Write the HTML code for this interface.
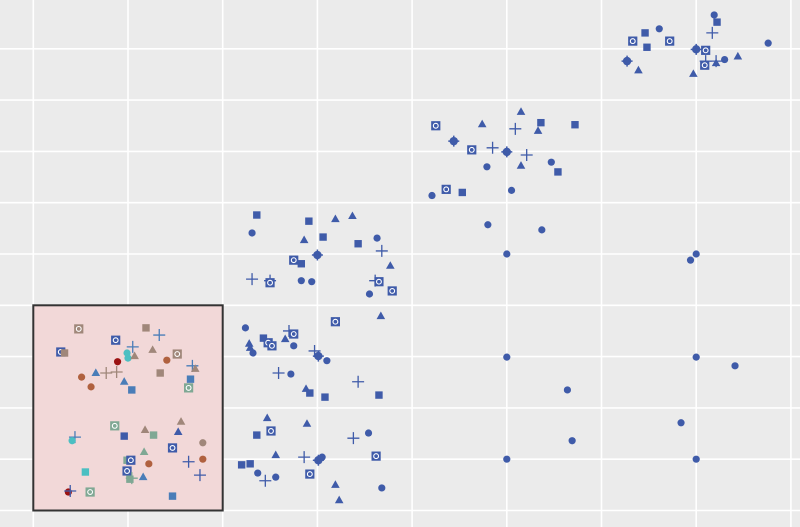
<!DOCTYPE html>
<html><head><meta charset="utf-8"><style>
html,body{margin:0;padding:0;background:#ebebeb;}
svg{display:block;font-family:"Liberation Sans",sans-serif;}
</style></head><body>
<svg id="chart" width="800" height="527" viewBox="0 0 800 527" xmlns="http://www.w3.org/2000/svg">
<rect x="0" y="0" width="800" height="527" fill="#ebebeb"/>
<g id="grid"></g>
<rect id="hl" fill="#f2d8d8" stroke="#333" stroke-width="2"/>
<g id="pts"></g>
</svg>
<script>
const xTicks=[0,10,20,30,40,50,60,70,80];
const yTicks=[0,10,20,30,40,50,60,70,80,90];
const highlightX=[0,20];
const highlightY=[0,40];
const xs=[71.9,72.2,66.1,64.6,63.3,67.2,64.8,71.0,70.0,71.7,77.6,73.0,74.4,71.0,72.1,70.9,72.1,63.9,62.7,69.7,
42.5,47.4,51.5,53.6,57.2,50.9,53.3,44.4,46.3,48.5,50.0,52.1,47.9,51.5,54.7,55.4,42.1,43.6,45.3,50.5,48.0,53.7,50.0,69.4,70.0,
50.0,70.0,74.1,56.4,68.4,56.9,50.0,70.0,
23.6,31.9,33.7,29.1,23.1,28.6,30.6,34.3,36.3,36.8,27.5,28.3,30.0,37.7,23.1,25.0,25.0,28.3,29.4,36.1,36.5,35.5,37.9,
22.4,31.9,36.7,24.3,27.0,27.5,26.6,24.8,25.2,22.8,22.9,23.2,27.5,29.7,30.1,31.0,25.9,27.2,34.3,28.8,29.2,30.8,36.5,24.7,25.1,28.9,23.6,33.8,35.4,25.6,28.6,30.1,30.5,36.2,22.0,22.9,23.7,25.6,24.5,29.2,31.9,36.8,32.3,
4.8,11.9,13.3,8.7,10.5,2.9,3.3,9.9,10.0,10.7,12.6,15.2,8.9,14.1,16.8,17.1,7.7,8.8,6.6,5.1,13.4,16.6,9.6,6.1,10.4,16.4,
8.6,15.6,11.8,12.7,4.4,4.1,9.6,15.3,17.9,14.7,11.7,9.9,10.3,12.2,17.9,16.4,5.5,9.9,17.6,10.2,10.4,11.6,3.7,3.9,6.0,14.7];
const ys=[96.6,95.2,93.9,93.1,91.5,91.5,90.3,89.7,89.9,93.1,91.1,87.9,88.5,87.6,87.6,86.8,87.2,85.8,87.6,85.1,
75.0,75.3,77.7,75.6,75.2,74.4,74.0,72.0,70.3,70.7,69.9,69.3,67.0,67.2,67.9,66.0,61.4,62.6,62.0,62.4,55.7,54.7,50.0,48.8,50.0,
29.9,29.9,28.2,23.5,17.1,13.6,10.0,10.0,
57.6,56.8,57.4,56.4,54.1,52.7,53.3,52.0,53.1,50.6,48.8,48.1,49.8,47.7,45.1,44.8,44.4,44.8,44.6,44.8,44.6,42.2,42.8,
35.6,36.8,37.9,33.6,35.0,34.4,33.4,32.7,32.1,32.5,31.7,30.7,32.1,31.1,30.1,29.2,26.8,26.6,25.1,23.7,22.9,22.1,22.5,18.0,15.5,16.9,14.7,14.1,15.1,10.8,10.4,9.8,10.4,10.6,8.9,9.1,7.3,6.5,5.8,7.1,5.0,4.4,2.0,
35.4,35.6,34.2,33.2,31.9,30.9,30.7,30.7,29.7,30.1,31.3,30.5,29.0,29.3,28.2,27.6,26.8,27.0,26.8,26.0,26.8,25.6,25.1,24.1,23.5,23.9,
16.5,17.3,15.7,14.7,14.3,13.6,14.5,15.3,13.2,12.2,11.4,9.8,9.8,9.1,10.0,9.5,7.5,7.7,6.9,6.1,6.3,6.5,3.6,3.8,3.6,2.8];
const shapes=("c s c s o o s o x p c c t p p o t t x t "+
"o t t s s p t x o p x p c t c s c o s c c c c c c "+
"c c c c c c c c "+
"s t t s c t s s c p o s x t p p o c c p o c o "+
"c o t s p o t o o t t c c p x c p c p t s s s t o t s p c t p x c o s s c c p o t c t "+
"o s p o p o s c c t t o c c p t p p t c s s t c s o "+
"o t t s p c s t c o t s o c c p s o p s p t c p o s").trim().split(/\s+/);
const groups=("A ".repeat(20+25+8+23+43)+
"D D G A G A D B B D D D E C G D D D G C D G G C G F "+
"F D D F G B A A D A F F A C C A B A A F F G E A F G").trim().split(/\s+/);
const colors={A:"#3f5ba9",B:"#4bbfc2",C:"#b0613f",D:"#a0877a",E:"#9b1212",F:"#7fa894",G:"#4a7db8"};
const X=v=>33.3+9.47*v, Y=v=>510.5-5.13*v;
const NS="http://www.w3.org/2000/svg";
function mk(tag,attrs,parent){const e=document.createElementNS(NS,tag);for(const k in attrs)e.setAttribute(k,attrs[k]);parent.appendChild(e);return e;}
const grid=document.getElementById('grid');
xTicks.forEach(t=>{const l=mk('line',{x1:X(t),x2:X(t),y1:0,y2:527,stroke:'#fff','stroke-width':1.6},grid);

});
yTicks.forEach(t=>{const l=mk('line',{x1:0,x2:800,y1:Y(t),y2:Y(t),stroke:'#fff','stroke-width':1.6},grid);

});
const hl=document.getElementById('hl');
hl.setAttribute('x',X(highlightX[0]));hl.setAttribute('y',Y(highlightY[1]));
hl.setAttribute('width',X(highlightX[1])-X(highlightX[0]));hl.setAttribute('height',Y(highlightY[0])-Y(highlightY[1]));
const pts=document.getElementById('pts');
for(let i=0;i<xs.length;i++){
 const cx=X(xs[i]),cy=Y(ys[i]),c=colors[groups[i]]||colors.A,s=shapes[i];
 const g=mk('g',{},pts);
 
 
 if(s==='c')mk('circle',{cx,cy,r:3.6,fill:c},g);
 else if(s==='s')mk('rect',{x:cx-3.7,y:cy-3.7,width:7.4,height:7.4,fill:c},g);
 else if(s==='t')mk('polygon',{points:`${cx},${cy-4.6} ${cx+4.3},${cy+3} ${cx-4.3},${cy+3}`,fill:c},g);
 else if(s==='p'){mk('path',{d:`M${cx-6},${cy}H${cx+6}M${cx},${cy-6}V${cy+6}`,stroke:c,'stroke-width':1.3,fill:'none'},g);}
 else if(s==='o'){mk('rect',{x:cx-4.6,y:cy-4.6,width:9.2,height:9.2,fill:c},g);mk('circle',{cx,cy,r:2.4,fill:'none',stroke:'#fff','stroke-width':1.1},g);}
 else if(s==='x'){mk('circle',{cx,cy,r:4.2,fill:c},g);mk('path',{d:`M${cx-5.5},${cy}H${cx+5.5}M${cx},${cy-5.5}V${cy+5.5}`,stroke:c,'stroke-width':1.5},g);}
}
</script>
</body></html>
